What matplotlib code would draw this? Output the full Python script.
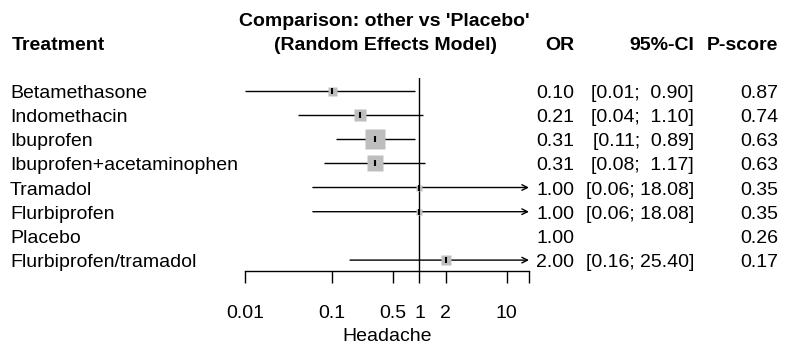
import matplotlib.pyplot as plt
from matplotlib import transforms

# data
treatments = ['Betamethasone', 'Indomethacin', 'Ibuprofen', 'Ibuprofen+acetaminophen',
              'Tramadol', 'Flurbiprofen', 'Placebo', 'Flurbiprofen/tramadol']
odds_ratio = [0.10, 0.21, 0.31, 0.31, 1.00, 1.00, 1.00, 2.00]
ci_lower = [0.01, 0.04, 0.11, 0.08, 0.06, 0.06, None, 0.16]
ci_upper = [0.90, 1.10, 0.89, 1.17, 18.08, 18.08, None, 25.40]
p_score = [0.87, 0.74, 0.63, 0.63, 0.35, 0.35, 0.26, 0.17]
# relative box weight (square side), Placebo is the reference -> no box
weight = [0.45, 0.6, 1.0, 0.8, 0.3, 0.3, 0, 0.5]

x_ticks = [0.01, 0.1, 0.5, 1, 2, 10]
x_tick_labels = ['0.01', '0.1', '0.5', '1', '2', '10']
x_max = 18

plt.rcParams['font.family'] = ['Liberation Sans', 'DejaVu Sans']
FS = 14

fig = plt.figure(figsize=(8, 3.62), dpi=100)

# overlay in pixel coords for the text columns
txt = fig.add_axes([0, 0, 1, 1])
txt.set_xlim(0, 800)
txt.set_ylim(362, 0)
txt.axis('off')

# forest panel
W, H = 800, 362
left, right, top, bottom = 245, 529, 78, 271
ax = fig.add_axes([left / W, 1 - bottom / H, (right - left) / W, (bottom - top) / H])
ax.patch.set_alpha(0)
rows = list(range(len(treatments)))
ax.set_xscale('log')
ax.set_xlim(x_ticks[0], x_max)
ax.set_ylim(7.45, -0.525)

for r, est, lo, hi, w in zip(rows, odds_ratio, ci_lower, ci_upper, weight):
    if lo is None:
        continue
    if hi > x_max:
        ax.annotate('', xy=(x_max, r), xytext=(lo, r),
                    arrowprops=dict(arrowstyle='->', lw=1, color='black',
                                    shrinkA=0, shrinkB=0, mutation_scale=10))
    else:
        ax.plot([lo, hi], [r, r], color='black', lw=1, solid_capstyle='butt')
    ax.plot(est, r, marker='s', ms=20 * 0.72 * w, mfc='#bebebe', mec='none', zorder=3)
    ax.plot(est, r, marker='|', ms=5, mec='black', mew=1.5, zorder=4)

ax.axvline(1, color='black', lw=1)

for s in ['top', 'left', 'right']:
    ax.spines[s].set_visible(False)
ax.spines['bottom'].set_linewidth(1)
ax.set_yticks([])
ax.set_xticks(x_ticks + [x_max])
ax.set_xticklabels(x_tick_labels + [''])
ax.minorticks_off()
ax.tick_params(axis='x', length=8.6, width=1, labelsize=FS, pad=16)
ax.set_xlabel('Headache', fontsize=FS, labelpad=4)

# text columns aligned to the forest rows
row_tr = transforms.offset_copy(
    transforms.blended_transform_factory(txt.transData, ax.transData),
    fig=fig, x=0, y=-2.5, units='dots')

for r, name, est, lo, hi, ps in zip(rows, treatments, odds_ratio, ci_lower, ci_upper, p_score):
    txt.text(10, r, name, transform=row_tr, fontsize=FS, va='center', ha='left')
    txt.text(574, r, f'{est:.2f}', transform=row_tr, fontsize=FS, va='center', ha='right')
    if lo is not None:
        hs = f'{hi:.2f}'.rjust(5)
        txt.text(694, r, f'[{lo:.2f}; {hs}]', transform=row_tr, fontsize=FS,
                 va='center', ha='right')
    txt.text(778, r, f'{ps:.2f}', transform=row_tr, fontsize=FS, va='center', ha='right')

# headers
txt.text(12, 46, 'Treatment', fontsize=FS, fontweight='bold', va='center', ha='left')
txt.text(384, 21, "Comparison: other vs 'Placebo'", fontsize=FS, fontweight='bold',
         va='center', ha='center')
txt.text(386, 46, '(Random Effects Model)', fontsize=FS, fontweight='bold',
         va='center', ha='center')
txt.text(574, 46, 'OR', fontsize=FS, fontweight='bold', va='center', ha='right')
txt.text(694, 46, '95%-CI', fontsize=FS, fontweight='bold', va='center', ha='right')
txt.text(778, 46, 'P-score', fontsize=FS, fontweight='bold', va='center', ha='right')

fig.savefig('out.png', dpi=100)
